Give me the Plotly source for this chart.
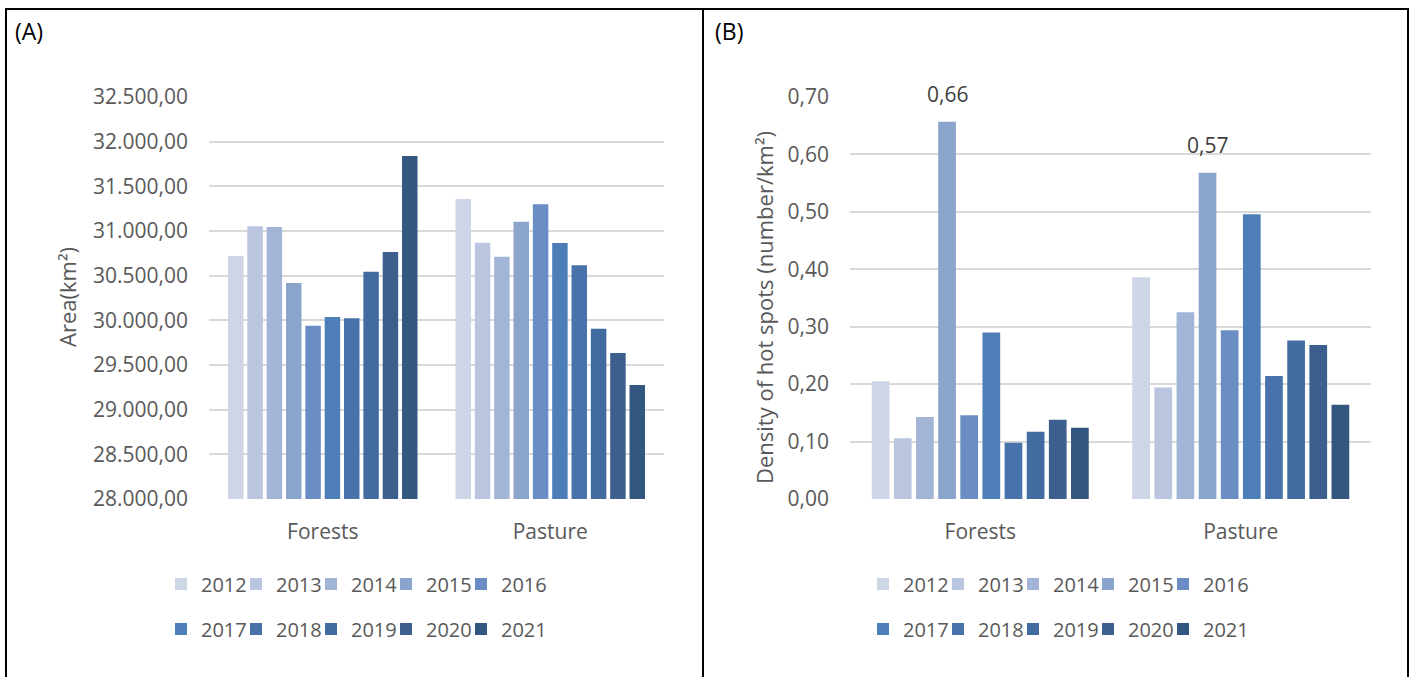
import plotly.graph_objects as go

W, H = 1410, 677

categories = ["Forests", "Pasture"]
years = ["2012", "2013", "2014", "2015", "2016", "2017", "2018", "2019", "2020", "2021"]

# Area (km²) per year: [Forests, Pasture]
area_forests = [30720, 31053, 31045, 30418, 29940, 30037, 30023, 30545, 30765, 31840]
area_pasture = [31358, 30869, 30712, 31104, 31299, 30866, 30616, 29906, 29634, 29276]

# Density of hot spots (number/km²) per year: [Forests, Pasture]
dens_forests = [0.205, 0.106, 0.143, 0.657, 0.146, 0.290, 0.098, 0.117, 0.138, 0.124]
dens_pasture = [0.386, 0.194, 0.325, 0.568, 0.294, 0.496, 0.214, 0.276, 0.268, 0.164]

colors = ["#CDD5E6", "#BAC6DF", "#A3B5D6", "#8BA4CC", "#6A8EC3",
          "#4E7EB8", "#4873AA", "#426C9F", "#3D5F8E", "#345780"]

FONT = "Open Sans"
GREY = "#595959"
GRID = "#D9D9D9"
FS = 21
BARGAP = 0.15

# legend grid: 5 entries per row, two rows under each panel
LEG_COLS = 5
LEG_PITCH = 75
LEG_LEFT = {"a": 175, "b": 877}
LEG_ROWS = [584, 629]


def px_x(p):
    return p / W


def px_y(p):
    return 1 - p / H


fig = go.Figure()
legends = {}
for i, yr in enumerate(years):
    row, col = divmod(i, LEG_COLS)
    for panel, vals_f, vals_p, xa, ya, idx in (
        ("a", area_forests, area_pasture, "x", "y", i),
        ("b", dens_forests, dens_pasture, "x2", "y2", i + len(years)),
    ):
        leg_id = "legend" if idx == 0 else f"legend{idx + 1}"
        fig.add_trace(go.Bar(
            x=categories, y=[vals_f[i], vals_p[i]], name=yr,
            marker=dict(color=colors[i], line=dict(width=0)),
            xaxis=xa, yaxis=ya, legend=leg_id, showlegend=True,
        ))
        legends[leg_id] = dict(
            x=px_x(LEG_LEFT[panel] + col * LEG_PITCH - 14), y=px_y(LEG_ROWS[row]),
            xanchor="left", yanchor="middle", orientation="h",
            font=dict(family=FONT, size=20, color=GREY), bgcolor="rgba(0,0,0,0)",
            borderwidth=0, itemwidth=30,
        )

# value labels above the tallest bar of each group in panel B
n = len(years)
slot = (1 - BARGAP) / n
annotations = []
for ci, series in enumerate([dens_forests, dens_pasture]):
    k = max(range(n), key=lambda j: series[j])
    xpos = ci - (1 - BARGAP) / 2 + (k + 0.5) * slot
    annotations.append(dict(
        x=xpos, y=series[k], xref="x2", yref="y2",
        text=f"{series[k]:.2f}".replace(".", ","),
        showarrow=False, yanchor="bottom", yshift=12,
        font=dict(family=FONT, size=FS, color="#404040"),
    ))

# panel letters
for label, xp in (("(A)", 13), ("(B)", 713)):
    annotations.append(dict(x=px_x(xp), y=px_y(31), xref="paper", yref="paper",
                            text=label, showarrow=False, xanchor="left", yanchor="middle",
                            font=dict(family=FONT, size=23, color="black")))

# axis titles
annotations.append(dict(x=px_x(67), y=px_y(297), xref="paper", yref="paper",
                        text="Area(km²)", textangle=-90, showarrow=False,
                        xanchor="center", yanchor="middle",
                        font=dict(family=FONT, size=22, color=GREY)))
annotations.append(dict(x=px_x(764), y=px_y(308), xref="paper", yref="paper",
                        text="Density of hot spots (number/km²)", textangle=-90, showarrow=False,
                        xanchor="center", yanchor="middle",
                        font=dict(family=FONT, size=22, color=GREY)))

# panel frame
line = dict(color="black", width=2)
shapes = [
    dict(type="line", xref="paper", yref="paper", x0=px_x(6), x1=px_x(6), y0=0, y1=px_y(9), line=line),
    dict(type="line", xref="paper", yref="paper", x0=px_x(703), x1=px_x(703), y0=0, y1=px_y(9), line=line),
    dict(type="line", xref="paper", yref="paper", x0=px_x(1408), x1=px_x(1408), y0=0, y1=px_y(9), line=line),
    dict(type="line", xref="paper", yref="paper", x0=px_x(5), x1=px_x(1409), y0=px_y(9), y1=px_y(9), line=line),
]

xaxis_common = dict(
    type="category", showgrid=False, showline=False, zeroline=False, ticks="",
    automargin=False, tickfont=dict(family=FONT, size=FS, color=GREY), ticklabelstandoff=18,
)
yaxis_common = dict(
    showgrid=True, gridcolor=GRID, gridwidth=1.5, showline=False, zeroline=False,
    automargin=False, ticks="", tickfont=dict(family=FONT, size=FS, color=GREY),
    ticklabelstandoff=20,
)

fig.update_layout(
    width=W, height=H,
    margin=dict(l=0, r=0, t=0, b=0, autoexpand=False),
    paper_bgcolor="white", plot_bgcolor="white",
    showlegend=True,
    barmode="group", bargap=BARGAP, bargroupgap=0.2,
    separators=",.",
    xaxis=dict(domain=[px_x(209), px_x(664)], anchor="y", **xaxis_common),
    yaxis=dict(domain=[px_y(499), px_y(97)], anchor="x", range=[28000, 32500],
               dtick=500, tickformat=",.2f", **yaxis_common),
    xaxis2=dict(domain=[px_x(850), px_x(1371)], anchor="y2", **xaxis_common),
    yaxis2=dict(domain=[px_y(499), px_y(97)], anchor="x2", range=[0, 0.7],
                dtick=0.1, tickformat=".2f", **yaxis_common),
    annotations=annotations,
    shapes=shapes,
    **legends,
)

fig.write_html("out.html")
